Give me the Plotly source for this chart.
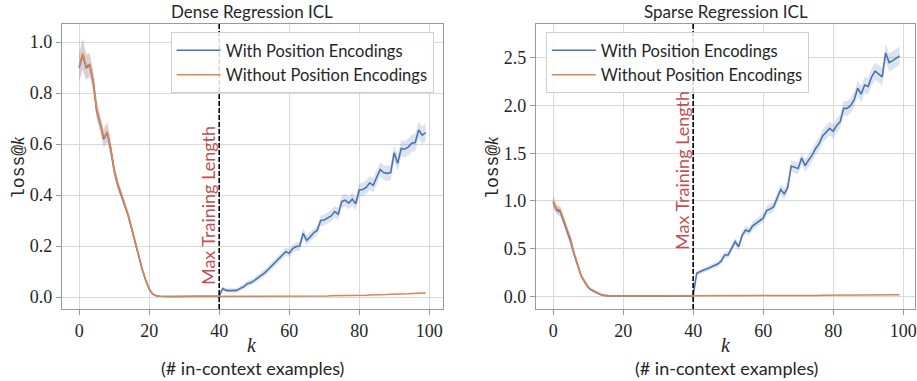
import plotly.graph_objects as go

k = list(range(100))

dense_with = [
    0.900, 0.950, 0.900, 0.910, 0.845, 0.730, 0.680, 0.620, 0.645, 0.580,
    0.495, 0.440, 0.400, 0.362, 0.320, 0.268, 0.213, 0.158, 0.108, 0.066,
    0.031, 0.011, 0.005, 0.003, 0.002, 0.002, 0.002, 0.002, 0.002, 0.002,
    0.002, 0.002, 0.002, 0.002, 0.002, 0.002, 0.002, 0.002, 0.002, 0.002,
    0.004, 0.033, 0.026, 0.025, 0.025, 0.026, 0.034, 0.040, 0.052, 0.056,
    0.064, 0.074, 0.086, 0.095, 0.108, 0.122, 0.135, 0.150, 0.163, 0.178,
    0.172, 0.190, 0.198, 0.200, 0.250, 0.222, 0.236, 0.252, 0.262, 0.300,
    0.302, 0.310, 0.318, 0.335, 0.325, 0.374, 0.380, 0.368, 0.384, 0.366,
    0.420, 0.422, 0.430, 0.448, 0.438, 0.470, 0.500, 0.488, 0.485, 0.488,
    0.566, 0.524, 0.583, 0.580, 0.588, 0.603, 0.606, 0.655, 0.635, 0.645,
]
dense_with_sd = [
    0.055, 0.060, 0.050, 0.045, 0.040, 0.035, 0.030, 0.035, 0.040, 0.030,
    0.022, 0.020, 0.018, 0.015, 0.013, 0.012, 0.010, 0.008, 0.006, 0.005,
    0.004, 0.002, 0.001, 0.001, 0.001, 0.001, 0.001, 0.001, 0.001, 0.001,
    0.001, 0.001, 0.001, 0.001, 0.001, 0.001, 0.001, 0.001, 0.001, 0.001,
    0.004, 0.008, 0.008, 0.008, 0.008, 0.009, 0.009, 0.010, 0.010, 0.011,
    0.011, 0.012, 0.012, 0.013, 0.013, 0.014, 0.014, 0.015, 0.015, 0.016,
    0.016, 0.017, 0.017, 0.018, 0.020, 0.019, 0.019, 0.020, 0.020, 0.021,
    0.021, 0.022, 0.022, 0.023, 0.023, 0.024, 0.024, 0.025, 0.025, 0.026,
    0.026, 0.026, 0.027, 0.027, 0.028, 0.028, 0.029, 0.029, 0.030, 0.030,
    0.031, 0.031, 0.032, 0.032, 0.033, 0.033, 0.034, 0.034, 0.035, 0.035,
]
dense_without = [
    0.905, 0.955, 0.905, 0.912, 0.850, 0.735, 0.685, 0.625, 0.648, 0.585,
    0.500, 0.445, 0.405, 0.365, 0.322, 0.270, 0.215, 0.160, 0.110, 0.068,
    0.032, 0.012, 0.005, 0.003, 0.002, 0.002, 0.002, 0.002, 0.002, 0.002,
    0.002, 0.002, 0.002, 0.002, 0.002, 0.002, 0.002, 0.002, 0.002, 0.002,
    0.002, 0.002, 0.002, 0.002, 0.002, 0.002, 0.002, 0.002, 0.002, 0.002,
    0.002, 0.002, 0.002, 0.002, 0.002, 0.003, 0.003, 0.003, 0.003, 0.003,
    0.003, 0.003, 0.003, 0.003, 0.003, 0.004, 0.004, 0.004, 0.004, 0.004,
    0.004, 0.004, 0.005, 0.005, 0.005, 0.005, 0.005, 0.006, 0.006, 0.006,
    0.006, 0.007, 0.007, 0.008, 0.008, 0.009, 0.009, 0.010, 0.010, 0.011,
    0.011, 0.012, 0.012, 0.013, 0.013, 0.014, 0.014, 0.015, 0.015, 0.016,
]
dense_without_sd = [
    0.055, 0.060, 0.050, 0.045, 0.040, 0.035, 0.030, 0.035, 0.040, 0.030,
    0.022, 0.020, 0.018, 0.015, 0.013, 0.012, 0.010, 0.008, 0.006, 0.005,
    0.004, 0.002, 0.001, 0.001, 0.001, 0.001, 0.001, 0.001, 0.001, 0.001,
    0.001, 0.001, 0.001, 0.001, 0.001, 0.001, 0.001, 0.001, 0.001, 0.001,
    0.001, 0.001, 0.001, 0.001, 0.001, 0.001, 0.001, 0.001, 0.001, 0.001,
    0.001, 0.001, 0.001, 0.001, 0.001, 0.001, 0.001, 0.001, 0.001, 0.001,
    0.001, 0.001, 0.001, 0.001, 0.001, 0.001, 0.001, 0.001, 0.001, 0.001,
    0.001, 0.001, 0.001, 0.001, 0.001, 0.001, 0.001, 0.001, 0.001, 0.001,
    0.001, 0.001, 0.001, 0.001, 0.001, 0.001, 0.001, 0.001, 0.001, 0.001,
    0.002, 0.002, 0.002, 0.002, 0.002, 0.002, 0.002, 0.002, 0.002, 0.002,
]

sparse_with = [
    0.995, 0.905, 0.890, 0.790, 0.680, 0.575, 0.440, 0.320, 0.215, 0.150,
    0.095, 0.065, 0.045, 0.028, 0.014, 0.008, 0.006, 0.005, 0.005, 0.005,
    0.005, 0.005, 0.005, 0.005, 0.005, 0.005, 0.005, 0.005, 0.005, 0.005,
    0.005, 0.005, 0.005, 0.005, 0.005, 0.005, 0.005, 0.005, 0.005, 0.005,
    0.005, 0.243, 0.262, 0.277, 0.290, 0.305, 0.320, 0.340, 0.370, 0.435,
    0.435, 0.500, 0.574, 0.520, 0.640, 0.696, 0.680, 0.740, 0.770, 0.800,
    0.820, 0.900, 0.915, 0.940, 1.030, 1.120, 1.075, 1.140, 1.366, 1.350,
    1.340, 1.450, 1.370, 1.430, 1.480, 1.550, 1.600, 1.680, 1.720, 1.760,
    1.730, 1.790, 1.830, 1.970, 1.970, 2.000, 2.060, 2.180, 2.120, 2.215,
    2.200, 2.300, 2.360, 2.330, 2.300, 2.550, 2.450, 2.470, 2.500, 2.520,
]
sparse_with_sd = [
    0.060, 0.050, 0.050, 0.045, 0.040, 0.035, 0.030, 0.025, 0.020, 0.015,
    0.012, 0.010, 0.008, 0.006, 0.005, 0.004, 0.003, 0.003, 0.003, 0.003,
    0.003, 0.003, 0.003, 0.003, 0.003, 0.003, 0.003, 0.003, 0.003, 0.003,
    0.003, 0.003, 0.003, 0.003, 0.003, 0.003, 0.003, 0.003, 0.003, 0.003,
    0.005, 0.020, 0.022, 0.024, 0.025, 0.026, 0.028, 0.030, 0.032, 0.034,
    0.035, 0.036, 0.038, 0.040, 0.040, 0.042, 0.042, 0.044, 0.045, 0.046,
    0.048, 0.048, 0.050, 0.050, 0.052, 0.054, 0.055, 0.056, 0.058, 0.060,
    0.060, 0.062, 0.063, 0.064, 0.065, 0.066, 0.068, 0.070, 0.070, 0.072,
    0.073, 0.074, 0.075, 0.076, 0.078, 0.080, 0.080, 0.082, 0.083, 0.085,
    0.086, 0.088, 0.090, 0.090, 0.092, 0.094, 0.095, 0.096, 0.098, 0.100,
]
sparse_without = [
    0.990, 0.915, 0.905, 0.800, 0.700, 0.600, 0.450, 0.330, 0.220, 0.160,
    0.100, 0.070, 0.050, 0.030, 0.015, 0.008, 0.006, 0.005, 0.005, 0.005,
    0.005, 0.005, 0.005, 0.005, 0.005, 0.005, 0.005, 0.005, 0.005, 0.005,
    0.005, 0.005, 0.005, 0.005, 0.005, 0.005, 0.005, 0.005, 0.005, 0.005,
    0.005, 0.005, 0.005, 0.006, 0.006, 0.006, 0.006, 0.006, 0.006, 0.007,
    0.007, 0.007, 0.007, 0.007, 0.008, 0.008, 0.008, 0.008, 0.008, 0.009,
    0.009, 0.009, 0.009, 0.009, 0.010, 0.010, 0.010, 0.010, 0.010, 0.011,
    0.011, 0.011, 0.011, 0.012, 0.012, 0.012, 0.012, 0.013, 0.013, 0.013,
    0.013, 0.014, 0.014, 0.014, 0.014, 0.015, 0.015, 0.015, 0.015, 0.016,
    0.016, 0.016, 0.016, 0.017, 0.017, 0.017, 0.017, 0.018, 0.018, 0.018,
]
sparse_without_sd = [
    0.060, 0.050, 0.050, 0.045, 0.040, 0.035, 0.030, 0.025, 0.020, 0.015,
    0.012, 0.010, 0.008, 0.006, 0.005, 0.004, 0.003, 0.003, 0.003, 0.003,
    0.003, 0.003, 0.003, 0.003, 0.003, 0.003, 0.003, 0.003, 0.003, 0.003,
    0.003, 0.003, 0.003, 0.003, 0.003, 0.003, 0.003, 0.003, 0.003, 0.003,
    0.003, 0.003, 0.003, 0.003, 0.003, 0.003, 0.003, 0.003, 0.003, 0.003,
    0.003, 0.003, 0.003, 0.003, 0.003, 0.003, 0.003, 0.003, 0.003, 0.003,
    0.003, 0.003, 0.003, 0.003, 0.003, 0.003, 0.003, 0.003, 0.003, 0.003,
    0.003, 0.003, 0.003, 0.003, 0.003, 0.003, 0.003, 0.003, 0.003, 0.003,
    0.003, 0.003, 0.003, 0.003, 0.003, 0.003, 0.003, 0.003, 0.003, 0.003,
    0.003, 0.003, 0.003, 0.003, 0.003, 0.003, 0.003, 0.003, 0.003, 0.003,
]

x_ticks = [0, 20, 40, 60, 80, 100]
dense_y_ticks = [0.0, 0.2, 0.4, 0.6, 0.8, 1.0]
sparse_y_ticks = [0.0, 0.5, 1.0, 1.5, 2.0, 2.5]
max_train_len = 40

titles = ["Dense Regression ICL", "Sparse Regression ICL"]
series_names = ["With Position Encodings", "Without Position Encodings"]

BLUE = "#4C72B0"
ORANGE = "#DD8452"
BLUE_FILL = "rgba(76,114,176,0.2)"
ORANGE_FILL = "rgba(221,132,82,0.2)"
RED = "#C44E52"
TXT = "#262626"
W, H = 917, 381

SANS = "Lato, 'Open Sans', sans-serif"
SERIF = "'Liberation Serif', serif"

fig = go.Figure()

panels = [
    (dense_with, dense_with_sd, dense_without, dense_without_sd, "x", "y", "legend"),
    (sparse_with, sparse_with_sd, sparse_without, sparse_without_sd, "x2", "y2", "legend2"),
]

for (yw, sw, yo, so, xa, ya, lg) in panels:
    for (yy, ss, fill) in [(yw, sw, BLUE_FILL), (yo, so, ORANGE_FILL)]:
        upper = [a + b for a, b in zip(yy, ss)]
        lower = [a - b for a, b in zip(yy, ss)]
        fig.add_trace(go.Scatter(x=k + k[::-1], y=upper + lower[::-1], fill="toself",
                                 fillcolor=fill, line=dict(width=0), mode="lines",
                                 hoverinfo="skip", showlegend=False, xaxis=xa, yaxis=ya))
    for (yy, col, name) in [(yw, BLUE, series_names[0]), (yo, ORANGE, series_names[1])]:
        fig.add_trace(go.Scatter(x=k, y=yy, mode="lines", line=dict(color=col, width=1.6),
                                 name=name, xaxis=xa, yaxis=ya, legend=lg, showlegend=True))

px_per = 382 / 108.9
x_left1, x_right1 = 62, 444
x_left2 = 537
y_top, y_bot = 24, 309

common_x = dict(showgrid=True, gridcolor="#d9d9d9", gridwidth=1, zeroline=False,
                showline=True, linecolor="#9a9a9a", linewidth=1, mirror=True,
                ticks="outside", ticklen=5, tickcolor="#9a9a9a",
                tickfont=dict(family=SERIF, size=18, color=TXT),
                ticklabeloverflow="allow",
                tickvals=x_ticks, ticktext=[str(v) for v in x_ticks])
common_y = dict(showgrid=True, gridcolor="#d9d9d9", gridwidth=1, zeroline=False,
                showline=True, linecolor="#9a9a9a", linewidth=1, mirror=True,
                ticks="outside", ticklen=5, tickcolor="#9a9a9a",
                tickfont=dict(family=SERIF, size=18, color=TXT))

leg_common = dict(xanchor="left", yanchor="top", bgcolor="rgba(255,255,255,0.85)",
                  bordercolor="#d0d0d0", borderwidth=1, itemwidth=44,
                  font=dict(family=SANS, size=16.5, color=TXT), tracegroupgap=0)

fig.update_layout(
    width=W, height=H, margin=dict(l=0, r=0, t=0, b=0),
    paper_bgcolor="white", plot_bgcolor="white",
    xaxis=dict(domain=[x_left1 / W, x_right1 / W], range=[-4.95, 103.95], anchor="y", **common_x),
    yaxis=dict(domain=[1 - y_bot / H, 1 - y_top / H], range=[-0.047, 1.071], anchor="x",
               tickvals=dense_y_ticks, ticktext=[f"{v:.1f}" for v in dense_y_ticks], **common_y),
    xaxis2=dict(domain=[x_left2 / W, 1.0], range=[-4.95, -4.95 + (W - x_left2) / px_per],
                anchor="y2", **common_x),
    yaxis2=dict(domain=[1 - y_bot / H, 1 - y_top / H], range=[-0.131, 2.853], anchor="x2",
                tickvals=sparse_y_ticks, ticktext=[f"{v:.1f}" for v in sparse_y_ticks], **common_y),
    legend=dict(x=171 / W, y=1 - 32 / H, **leg_common),
    legend2=dict(x=547 / W, y=1 - 32 / H, **leg_common),
    showlegend=True,
)

for xa, ya in [("x", "y"), ("x2", "y2")]:
    fig.add_shape(type="line", xref=xa, yref=f"{ya} domain", x0=max_train_len, x1=max_train_len,
                  y0=0, y1=1, line=dict(color="black", width=1.6, dash="5px,2px"))

ann = []
centers = [(x_left1 + x_right1) / 2, (x_left2 + 919) / 2]
for i, c in enumerate(centers):
    ann.append(dict(text=titles[i], x=c / W, y=1 - 12 / H, xref="paper", yref="paper",
                    showarrow=False, xanchor="center", yanchor="middle",
                    font=dict(family=SANS, size=17, color=TXT)))
    ann.append(dict(text="<i>k</i>", x=c / W, y=1 - 345 / H, xref="paper", yref="paper",
                    showarrow=False, xanchor="center", yanchor="middle",
                    font=dict(family=SERIF, size=20, color=TXT)))
    ann.append(dict(text="(# in-context examples)", x=c / W, y=1 - 368 / H, xref="paper",
                    yref="paper", showarrow=False, xanchor="center", yanchor="middle",
                    font=dict(family=SANS, size=18, color=TXT)))

ylab = '<span style="font-family:Liberation Mono">loss@</span><i>k</i>'
for xpix in [18, 493]:
    ann.append(dict(text=ylab, x=xpix / W, y=1 - 167 / H, xref="paper", yref="paper",
                    showarrow=False, textangle=-90, xanchor="center", yanchor="middle",
                    font=dict(family=SERIF, size=18, color=TXT)))

ann.append(dict(text="Max Training Length", x=208 / W, y=1 - 287 / H, xref="paper", yref="paper",
                showarrow=False, textangle=-90, xanchor="center", yanchor="bottom",
                font=dict(family=SANS, size=18, color=RED)))
ann.append(dict(text="Max Training Length", x=683 / W, y=1 - 252 / H, xref="paper", yref="paper",
                showarrow=False, textangle=-90, xanchor="center", yanchor="bottom",
                font=dict(family=SANS, size=18, color=RED)))

fig.update_layout(annotations=ann)
fig.write_html("out.html")
